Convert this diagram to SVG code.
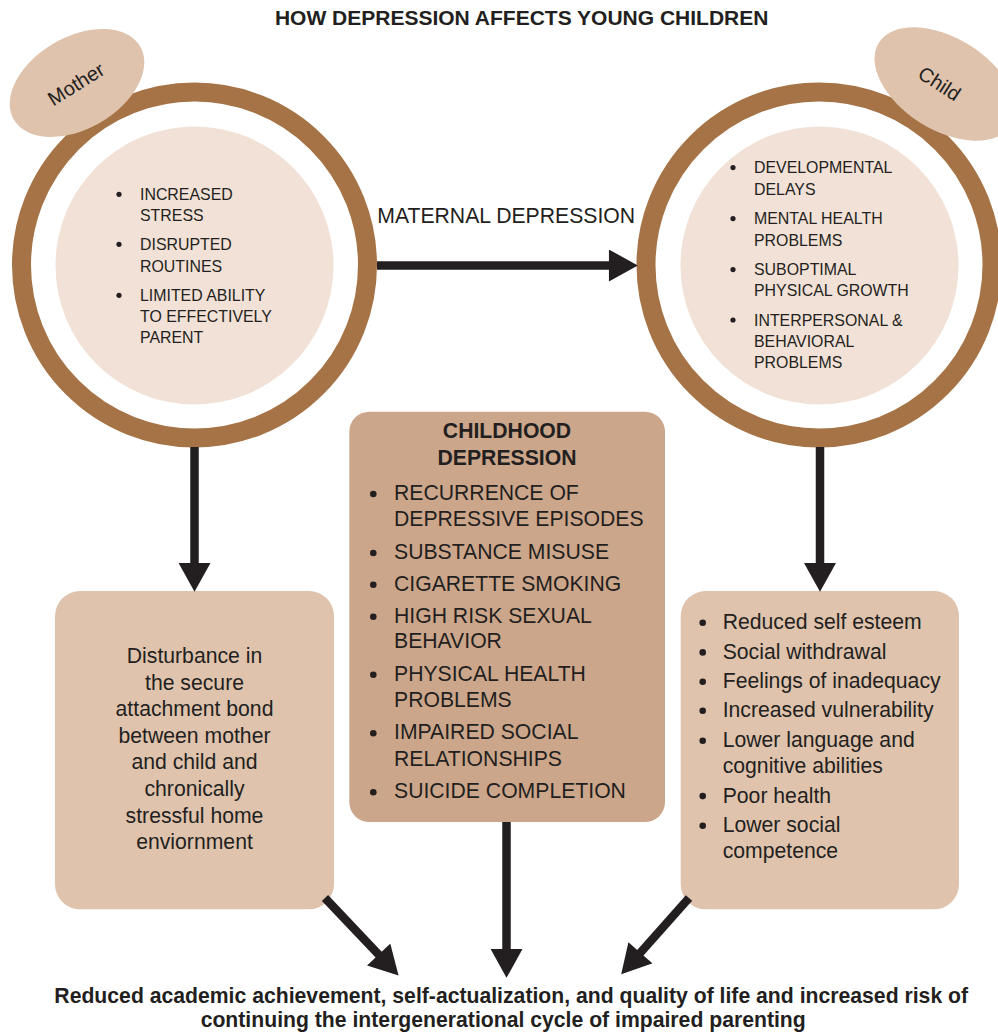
<svg xmlns="http://www.w3.org/2000/svg" width="998" height="1034" viewBox="0 0 998 1034">
<style>
text{font-family:"Liberation Sans",Arial,Helvetica,sans-serif;fill:#231f20}
.title{font-size:21px;font-weight:bold}
.circ{font-size:15.9px}
.body{font-size:21.2px}
.bold{font-weight:bold}
.ring{fill:none;stroke:#a57345;stroke-width:19}
.inner{fill:#f2e1d7}
.tag{fill:#dfc3ad}
.box{fill:#dfc3ad}
.cbox{fill:#cca68a}
.dot{fill:#231f20}
.conn{stroke:#231f20;stroke-width:8.5;fill:none;marker-end:url(#ah)}
</style>
<defs>
<marker id="ah" markerUnits="userSpaceOnUse" markerWidth="32" markerHeight="32" refX="2" refY="15.5" orient="auto" viewBox="0 0 30 31">
<path d="M0,0 L28,15.5 L0,31 Z" fill="#231f20"/>
</marker>
</defs>
<rect width="998" height="1034" fill="#ffffff"/>
<text class="title" x="521.7" y="25" text-anchor="middle">HOW DEPRESSION AFFECTS YOUNG CHILDREN</text>

<g id="mother">
<circle class="ring" cx="194.5" cy="265" r="173"/>
<circle class="inner" cx="194.5" cy="265.5" r="139"/>
<ellipse class="tag" cx="0" cy="0" rx="73" ry="46" transform="translate(77,83) rotate(-30)"/>
<text class="body" x="0" y="7" text-anchor="middle" transform="translate(76,84) rotate(-32)" style="font-size:20px">Mother</text>
<g class="circ">
<circle class="dot" cx="119" cy="194.3" r="2.6"/>
<text class="circ" x="140" y="200">INCREASED</text>
<text class="circ" x="140" y="220.7">STRESS</text>
<circle class="dot" cx="119" cy="244.3" r="2.6"/>
<text class="circ" x="140" y="250">DISRUPTED</text>
<text class="circ" x="140" y="271.7">ROUTINES</text>
<circle class="dot" cx="119" cy="295.3" r="2.6"/>
<text class="circ" x="140" y="301">LIMITED ABILITY</text>
<text class="circ" x="140" y="321.7">TO EFFECTIVELY</text>
<text class="circ" x="140" y="343">PARENT</text>
</g>
</g>

<g id="child">
<circle class="ring" cx="819" cy="265" r="173"/>
<circle class="inner" cx="819.5" cy="265.5" r="139"/>
<ellipse class="tag" cx="0" cy="0" rx="78" ry="46" transform="translate(945,84) rotate(32)"/>
<text class="body" x="0" y="7" text-anchor="middle" transform="translate(939.5,83.5) rotate(33)" style="font-size:20px">Child</text>
<circle class="dot" cx="733" cy="167.6" r="2.6"/>
<text class="circ" x="754" y="173.3">DEVELOPMENTAL</text>
<text class="circ" x="754" y="195">DELAYS</text>
<circle class="dot" cx="733" cy="218.6" r="2.6"/>
<text class="circ" x="754" y="224.3">MENTAL HEALTH</text>
<text class="circ" x="754" y="245.7">PROBLEMS</text>
<circle class="dot" cx="733" cy="269.6" r="2.6"/>
<text class="circ" x="754" y="275.3">SUBOPTIMAL</text>
<text class="circ" x="754" y="296">PHYSICAL GROWTH</text>
<circle class="dot" cx="733" cy="320" r="2.6"/>
<text class="circ" x="754" y="325.7">INTERPERSONAL &amp;</text>
<text class="circ" x="754" y="346.7">BEHAVIORAL</text>
<text class="circ" x="754" y="367.7">PROBLEMS</text>
</g>

<g id="childhood-depression">
<rect class="cbox" x="349.3" y="411.7" width="315.7" height="410.3" rx="20" ry="20"/>
<text class="body bold" x="507" y="438.3" text-anchor="middle">CHILDHOOD</text>
<text class="body bold" x="507" y="465" text-anchor="middle">DEPRESSION</text>
<circle class="dot" cx="373.3" cy="494" r="3.3"/>
<text class="body" x="394" y="500">RECURRENCE OF</text>
<text class="body" x="394" y="526">DEPRESSIVE EPISODES</text>
<circle class="dot" cx="373.3" cy="553" r="3.3"/>
<text class="body" x="394" y="559">SUBSTANCE MISUSE</text>
<circle class="dot" cx="373.3" cy="584.7" r="3.3"/>
<text class="body" x="394" y="590.7">CIGARETTE SMOKING</text>
<circle class="dot" cx="373.3" cy="616.7" r="3.3"/>
<text class="body" x="394" y="622.7">HIGH RISK SEXUAL</text>
<text class="body" x="394" y="648.3">BEHAVIOR</text>
<circle class="dot" cx="373.3" cy="674.7" r="3.3"/>
<text class="body" x="394" y="680.7">PHYSICAL HEALTH</text>
<text class="body" x="394" y="706.7">PROBLEMS</text>
<circle class="dot" cx="373.3" cy="733.3" r="3.3"/>
<text class="body" x="394" y="739.3">IMPAIRED SOCIAL</text>
<text class="body" x="394" y="765.7">RELATIONSHIPS</text>
<circle class="dot" cx="373.3" cy="792.3" r="3.3"/>
<text class="body" x="394" y="798.3">SUICIDE COMPLETION</text>
</g>

<g id="attachment">
<rect class="box" x="55" y="591" width="279" height="318.3" rx="25" ry="25"/>
<text class="body" x="194.5" y="663" text-anchor="middle">Disturbance in</text>
<text class="body" x="194.5" y="689.6" text-anchor="middle">the secure</text>
<text class="body" x="194.5" y="716.2" text-anchor="middle">attachment bond</text>
<text class="body" x="194.5" y="742.8" text-anchor="middle">between mother</text>
<text class="body" x="194.5" y="769.4" text-anchor="middle">and child and</text>
<text class="body" x="194.5" y="796" text-anchor="middle">chronically</text>
<text class="body" x="194.5" y="822.6" text-anchor="middle">stressful home</text>
<text class="body" x="194.5" y="849.2" text-anchor="middle">enviornment</text>
</g>

<g id="child-outcomes">
<rect class="box" x="680.7" y="591" width="278.3" height="318.3" rx="25" ry="25"/>
<circle class="dot" cx="702.7" cy="622.7" r="3.3"/>
<text class="body" x="722.7" y="629.3">Reduced self esteem</text>
<circle class="dot" cx="702.7" cy="652.4" r="3.3"/>
<text class="body" x="722.7" y="659">Social withdrawal</text>
<circle class="dot" cx="702.7" cy="681.7" r="3.3"/>
<text class="body" x="722.7" y="688.3">Feelings of inadequacy</text>
<circle class="dot" cx="702.7" cy="710.7" r="3.3"/>
<text class="body" x="722.7" y="717.3">Increased vulnerability</text>
<circle class="dot" cx="702.7" cy="740.7" r="3.3"/>
<text class="body" x="722.7" y="747.3">Lower language and</text>
<text class="body" x="722.7" y="772.7">cognitive abilities</text>
<circle class="dot" cx="702.7" cy="796.1" r="3.3"/>
<text class="body" x="722.7" y="802.7">Poor health</text>
<circle class="dot" cx="702.7" cy="825.7" r="3.3"/>
<text class="body" x="722.7" y="832.3">Lower social</text>
<text class="body" x="722.7" y="858.3">competence</text>
</g>

<g id="outcome">
<text class="body bold" x="511.2" y="1003.3" text-anchor="middle">Reduced academic achievement, self-actualization, and quality of life and increased risk of</text>
<text class="body bold" x="503.2" y="1027.3" text-anchor="middle">continuing the intergenerational cycle of impaired parenting</text>
</g>

<g id="connectors">
<line class="conn" x1="377" y1="265.5" x2="611" y2="265.5"/>
<text class="body" x="506.2" y="223.3" text-anchor="middle">MATERNAL DEPRESSION</text>
<line class="conn" x1="194.5" y1="447" x2="194.5" y2="565"/>
<line class="conn" x1="820" y1="447" x2="820" y2="565"/>
<line class="conn" x1="506.5" y1="822" x2="506.5" y2="951"/>
<line class="conn" x1="325" y1="898" x2="380.1" y2="956.1"/>
<line class="conn" x1="689" y1="898" x2="639" y2="954.3"/>
</g>
</svg>
